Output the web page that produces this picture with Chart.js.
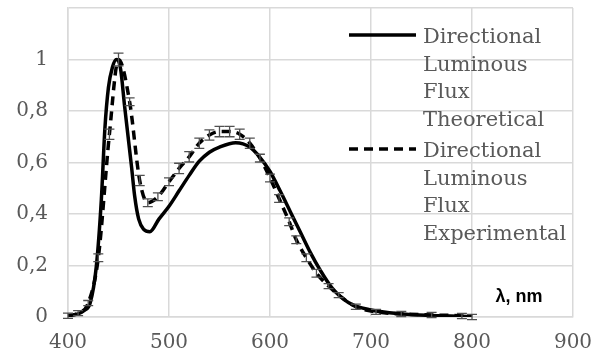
<!DOCTYPE html>
<html><head><meta charset="utf-8">
<script src="https://cdn.jsdelivr.net/npm/chart.js@4/dist/chart.umd.min.js"></script>
<style>html,body{margin:0;padding:0;background:#fff}#wrap{width:602px;height:361px}</style>
</head><body><div id="wrap"><canvas id="c" width="602" height="361"></canvas></div>
<script>
const theoX = [400,410,416,422,428,433,436.5,440,444,448,452,456,463,466,470,475,481,490,500,510,520,530,540,550,566,580,590,600,610,620,630,640,650,662,678,700,730,760,800];
const theoY = [0.005,0.012,0.025,0.055,0.195,0.455,0.73,0.89,0.97,1.0,0.965,0.82,0.58,0.47,0.38,0.34,0.331,0.38,0.43,0.49,0.55,0.605,0.64,0.66,0.677,0.66,0.62,0.565,0.49,0.41,0.33,0.25,0.18,0.11,0.055,0.027,0.012,0.006,0.002];
const expX = [400,410,420,430,441,450,461,471,479,489,500,510,520,530,540,550,560,570,580,590,600,609,619,626,636,646,658,668,685,705,730,760,790,800];
const expY = [0.005,0.015,0.054,0.23,0.71,1.0,0.836,0.53,0.444,0.467,0.525,0.577,0.622,0.675,0.707,0.72,0.72,0.71,0.675,0.617,0.54,0.46,0.37,0.30,0.23,0.17,0.12,0.085,0.04,0.02,0.012,0.008,0.004,0.0];
const expErr = [0.01,0.01,0.01,0.015,0.02,0.025,0.015,0.02,0.015,0.015,0.015,0.02,0.02,0.02,0.02,0.02,0.02,0.02,0.02,0.015,0.015,0.015,0.015,0.015,0.015,0.015,0.01,0.01,0.01,0.01,0.01,0.01,0.01,0.01];
const xTicks = [400,500,600,700,800,900];
const yTicks = [0,0.2,0.4,0.6,0.8,1];
const legendLabels = [["Directional","Luminous","Flux","Theoretical"],["Directional","Luminous","Flux","Experimental"]];
const axisTitle = "λ, nm";

const serif = "'DejaVu Serif', serif";
const grey = '#595959';

const errPlugin = {
  id:'err',
  afterDatasetsDraw(chart){
    const ctx = chart.ctx, xs = chart.scales.x, ys = chart.scales.y;
    ctx.save();
    ctx.strokeStyle = '#505050'; ctx.lineWidth = 1.3;
    expX.forEach((x,i)=>{
      const px = xs.getPixelForValue(x);
      const y1 = ys.getPixelForValue(expY[i]-expErr[i]);
      const y2 = ys.getPixelForValue(expY[i]+expErr[i]);
      ctx.beginPath();
      ctx.moveTo(px,y1); ctx.lineTo(px,y2);
      ctx.moveTo(px-5,y1); ctx.lineTo(px+5,y1);
      ctx.moveTo(px-5,y2); ctx.lineTo(px+5,y2);
      ctx.stroke();
    });
    ctx.restore();
  },
  afterDraw(chart){
    const ctx = chart.ctx;
    ctx.save();
    const starts = [43,157];
    chart.data.datasets.forEach((ds,i)=>{
      const base = starts[i];
      ctx.strokeStyle = '#000'; ctx.lineWidth = 3.5;
      ctx.setLineDash(ds.borderDash||[]);
      ctx.beginPath(); ctx.moveTo(349, base-8); ctx.lineTo(416, base-8); ctx.stroke();
      ctx.setLineDash([]);
      ctx.fillStyle = grey; ctx.font = "21px " + serif; ctx.textBaseline='alphabetic'; ctx.textAlign='left';
      legendLabels[i].forEach((t,j)=>ctx.fillText(t, 423, base + j*27.7));
    });
    ctx.fillStyle = '#000'; ctx.font = "bold 18px 'Liberation Sans', Arial, sans-serif";
    ctx.textAlign='center';
    ctx.fillText(axisTitle, 519, 302);
    ctx.restore();
  }
};

new Chart(document.getElementById('c'), {
  type:'line',
  data:{datasets:[
    {label:legendLabels[0].join(' '), data:theoX.map((x,i)=>({x, y:theoY[i]})), borderColor:'#000', borderWidth:3.5, pointRadius:0, cubicInterpolationMode:'monotone', fill:false},
    {label:legendLabels[1].join(' '), data:expX.map((x,i)=>({x, y:expY[i]})), borderColor:'#000', borderWidth:3.5, borderDash:[9,6], pointRadius:0, cubicInterpolationMode:'monotone', fill:false}
  ]},
  options:{
    responsive:false, animation:false, devicePixelRatio:1,
    layout:{padding:{top:8,right:29,left:0,bottom:0}},
    plugins:{legend:{display:false}, tooltip:{enabled:false}},
    scales:{
      x:{type:'linear', min:400, max:900,
        afterBuildTicks(s){ s.ticks = xTicks.map(v=>({value:v})); },
        afterFit(s){ s.height = 44; s.paddingLeft = 0; s.paddingRight = 0; },
        grid:{color:'#d9d9d9', lineWidth:1.5, drawTicks:false},
        border:{color:'#d9d9d9', width:1.5},
        ticks:{color:grey, font:{family:serif, size:20}, padding:14, maxRotation:0}
      },
      y:{min:0, max:1.2,
        afterBuildTicks(s){ s.ticks = yTicks.concat([1.2]).map(v=>({value:v})); },
        afterFit(s){ s.width = 68; s.paddingTop = 0; s.paddingBottom = 0; },
        grid:{color:'#d9d9d9', lineWidth:1.5, drawTicks:false},
        border:{color:'#d9d9d9', width:1.5},
        ticks:{color:grey, font:{family:serif, size:20}, padding:20,
          callback:(v)=> yTicks.includes(Math.round(v*10)/10) && v<1.1 ? String(Math.round(v*10)/10).replace('.',',') : ''}
      }
    }
  },
  plugins:[errPlugin]
});
</script></body></html>
